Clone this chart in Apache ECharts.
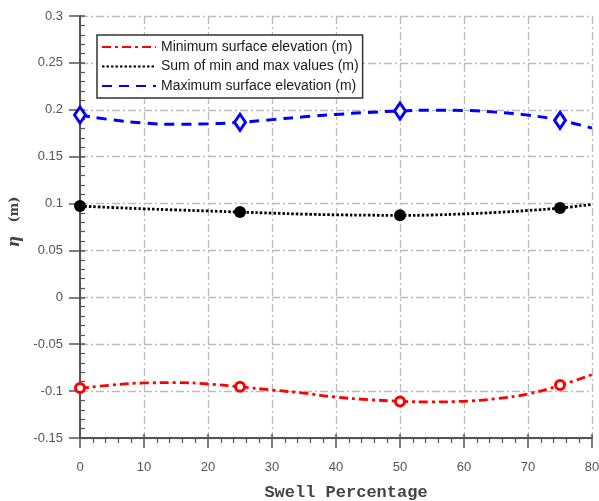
<!DOCTYPE html>
<html>
<head>
<meta charset="utf-8">
<script src="https://cdn.jsdelivr.net/npm/echarts@6/dist/echarts.min.js"></script>
<style>html,body{margin:0;padding:0;background:#fff}#c{width:599px;height:501px}</style>
</head>
<body>
<div id="c"></div>
<script>
// Curve sample positions (Swell Percentage)
const curveX = [0,5,10,15,20,25,30,35,40,45,50,55,60,65,70,75,80];
const minCurve = [-0.0970,-0.0935,-0.0913,-0.0910,-0.0924,-0.0955,-0.0988,-0.1022,-0.1064,-0.1090,-0.1108,-0.1115,-0.1108,-0.1080,-0.1030,-0.0938,-0.0824];
const sumCurve = [0.0973,0.0958,0.0944,0.0932,0.0921,0.0909,0.0898,0.0887,0.0880,0.0876,0.0874,0.0878,0.0890,0.0905,0.0926,0.0952,0.0991];
const maxCurve = [0.1944,0.1893,0.1860,0.1845,0.1850,0.1866,0.1895,0.1925,0.1950,0.1972,0.1986,0.1996,0.1993,0.1975,0.1943,0.1887,0.1805];
// Measured points
const markerX = [0,25,50,75];
const minPts = [-0.0968,-0.0953,-0.1110,-0.0935];
const sumPts = [0.0975,0.0910,0.0875,0.0953];
const maxPts = [0.1944,0.1866,0.1986,0.1887];
const seriesNames = ['Minimum surface elevation (m)','Sum of min and max values (m)','Maximum surface elevation (m)'];

const pair = (xs, ys) => xs.map((x, i) => [x, ys[i]]);
const gridDash = [8,3,2,3];
const axisColor = '#555';
const labelStyle = {color:'#555', fontSize:13, fontFamily:'Liberation Sans, Arial, sans-serif'};

const chart = echarts.init(document.getElementById('c'), null, {renderer:'canvas'});
chart.setOption({
  animation:false,
  backgroundColor:'#fff',
  grid:{left:80, right:7, top:16, bottom:63, containLabel:false, outerBoundsMode:'none'},
  legend:{
    data:seriesNames,
    orient:'vertical', left:97, top:35,
    padding:[5,4,5,4], itemGap:5.5, itemWidth:54, itemHeight:14, itemTextGap:5,
    itemStyle:{color:'rgba(0,0,0,0)', borderWidth:0, opacity:0},
    backgroundColor:'#fff', borderColor:'#333', borderWidth:1.5,
    textStyle:{color:'#1a1a1a', fontSize:14, fontFamily:'Liberation Sans, Arial, sans-serif'}
  },
  xAxis:[{
    type:'value', min:0, max:80, interval:10, position:'bottom',
    name:'Swell Percentage', nameLocation:'middle', nameGap:46,
    nameTextStyle:{color:'#444', fontSize:17, fontWeight:'bold', padding:[0,0,0,20], fontFamily:'Liberation Mono, DejaVu Sans Mono, monospace'},
    axisLine:{show:true, onZero:false, lineStyle:{color:axisColor, width:2}},
    axisTick:{show:true, length:10, lineStyle:{color:axisColor, width:1.5}},
    minorTick:{show:true, splitNumber:5, length:5, lineStyle:{color:axisColor, width:1.2}},
    axisLabel:Object.assign({margin:23}, labelStyle),
    splitLine:{show:true, lineStyle:{color:'#bbb', width:1.3, type:gridDash}}
  },{
    type:'value', min:0, max:80, interval:10, position:'bottom',
    axisLine:{show:false, onZero:false},
    axisTick:{show:true, inside:true, length:4, lineStyle:{color:axisColor, width:1.5}},
    axisLabel:{show:false}, splitLine:{show:false}
  }],
  yAxis:[{
    type:'value', min:-0.15, max:0.3, interval:0.05, position:'left',
    name:'{e|η}    {m|(m)}', nameLocation:'middle', nameGap:47, nameRotate:90,
    nameTextStyle:{padding:[0,0,0,10], rich:{
      e:{fontStyle:'italic', fontWeight:'bold', fontSize:16, color:'#444', fontFamily:'DejaVu Serif, serif'},
      m:{fontWeight:'bold', fontSize:13, color:'#444', fontFamily:'DejaVu Serif, serif'}
    }},
    axisLine:{show:true, onZero:false, lineStyle:{color:axisColor, width:2}},
    axisTick:{show:true, length:11, lineStyle:{color:axisColor, width:1.5}},
    axisLabel:Object.assign({margin:17}, labelStyle),
    splitLine:{show:true, lineStyle:{color:'#bbb', width:1.3, type:gridDash}}
  },{
    type:'value', min:-0.15, max:0.3, interval:0.05, position:'left',
    axisLine:{show:false, onZero:false},
    axisTick:{show:true, inside:true, length:5, lineStyle:{color:axisColor, width:1.5}},
    minorTick:{show:true, splitNumber:5, length:5, lineStyle:{color:axisColor, width:1.2}},
    axisLabel:{show:false}, splitLine:{show:false}
  }],
  series:[
    {name:seriesNames[0], type:'line', smooth:true, symbol:'none', data:pair(curveX, minCurve),
     lineStyle:{color:'#ff0000', width:2.8, type:[9,4,3,4]}, itemStyle:{color:'#ff0000'}, z:3},
    {name:seriesNames[1], type:'line', smooth:true, symbol:'none', data:pair(curveX, sumCurve),
     lineStyle:{color:'#000', width:2.8, type:[2.5,2]}, itemStyle:{color:'#000'}, z:3},
    {name:seriesNames[2], type:'line', smooth:true, symbol:'none', data:pair(curveX, maxCurve),
     lineStyle:{color:'#0000ff', width:3, type:[10,7]}, itemStyle:{color:'#0000ff'}, z:3},
    {name:'minPts', type:'scatter', data:pair(markerX, minPts), symbol:'circle', symbolSize:9,
     itemStyle:{color:'#fff', borderColor:'#ff0000', borderWidth:3, opacity:1}, z:5},
    {name:'sumPts', type:'scatter', data:pair(markerX, sumPts), symbol:'circle', symbolSize:12,
     itemStyle:{color:'#000', opacity:1}, z:5},
    {name:'maxPts', type:'scatter', data:pair(markerX, maxPts), symbol:'diamond', symbolSize:[11,16],
     itemStyle:{color:'#fff', borderColor:'#0000ff', borderWidth:3, opacity:1}, z:5}
  ]
});
</script>
</body>
</html>
